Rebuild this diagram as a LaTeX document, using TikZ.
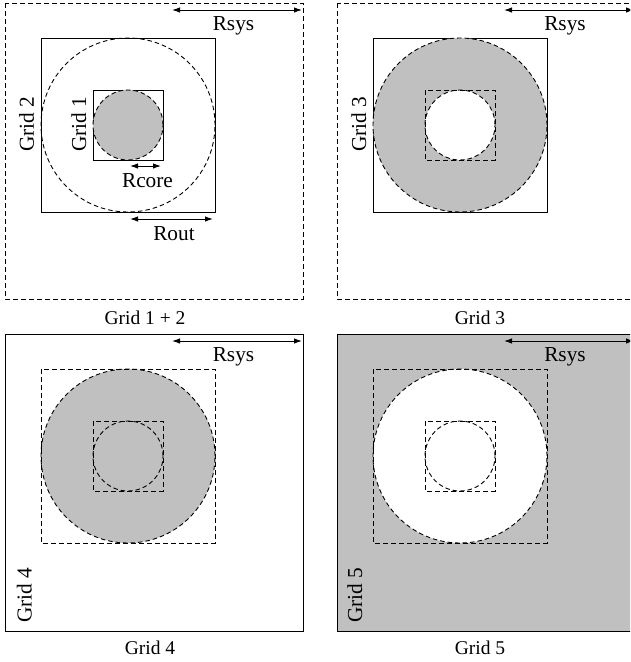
\documentclass[tikz,border=0pt]{standalone}
\usepackage{fontspec}
\setmainfont{Liberation Serif}
\usetikzlibrary{arrows.meta}
\definecolor{greyfill}{RGB}{192,192,192}
\tikzset{
  solidline/.style={line width=1pt},
  dashline/.style={line width=1pt, dash pattern=on 5pt off 3pt},
  dashcirc/.style={line width=0.9pt, dash pattern=on 4.5pt off 3pt},
  dimarrow/.style={line width=1pt, {Latex[length=8pt,width=5.5pt]}-{Latex[length=8pt,width=5.5pt]}},
  lab/.style={inner sep=0pt, anchor=base, font=\fontsize{21.3}{24}\selectfont},
  rlab/.style={inner sep=0pt, anchor=base west, rotate=90, font=\fontsize{21.3}{24}\selectfont},
  captxt/.style={inner sep=0pt, anchor=base, font=\fontsize{19.5}{22}\selectfont}
}
\begin{document}
\begin{tikzpicture}[x=1pt,y=-1pt]
\useasboundingbox (0,0) rectangle (630,662);
\clip (0,0) rectangle (630,662);
% ---------------- Panel 1: Grid 1 + 2
\draw[dashline] (5,3) rectangle (303,299);
\draw[solidline] (41,38) rectangle (215,212);
\draw[dashcirc] (128,125) circle[radius=87pt];
\draw[solidline] (93,90) rectangle (163,160);
\fill[fill=greyfill] (128,125) circle[radius=35pt];
\draw[dashcirc] (128,125) circle[radius=35pt];
\coordinate (s1a) at (172,10); \coordinate (s1b) at (302,10);
\draw[dimarrow] (s1a) -- (s1b);
\node[lab] (rsys1) at (233.5,30) {Rsys};
\coordinate (c1a) at (130,166); \coordinate (c1b) at (161,166);
\draw[dimarrow] (c1a) -- (c1b);
\node[lab] (rcore) at (147.5,187) {Rcore};
\coordinate (o1a) at (130,219); \coordinate (o1b) at (213,219);
\draw[dimarrow] (o1a) -- (o1b);
\node[lab] (rout) at (174,240) {Rout};
\node[rlab] (g2) at (34,152) {Grid 2};
\node[rlab] (g1) at (86,152) {Grid 1};
\node[captxt] (cap1) at (145,324) {Grid 1 + 2};
% ---------------- Panel 2: Grid 3
\draw[dashline] (337,3) rectangle (635,299);
\draw[solidline] (373,38) rectangle (547,212);
\fill[fill=greyfill] (460,125) circle[radius=87pt];
\draw[dashcirc] (460,125) circle[radius=87pt];
\fill[fill=white] (460,125) circle[radius=35pt];
\draw[dashline] (425,90) rectangle (495,160);
\draw[dashcirc] (460,125) circle[radius=35pt];
\coordinate (s2a) at (504,10); \coordinate (s2b) at (634,10);
\draw[dimarrow] (s2a) -- (s2b);
\node[lab] (rsys2) at (565,30) {Rsys};
\node[rlab] (g3) at (366,152) {Grid 3};
\node[captxt] (cap2) at (480,324) {Grid 3};
% ---------------- Panel 3: Grid 4
\draw[solidline] (5,334) rectangle (303,631);
\fill[fill=greyfill] (128,456) circle[radius=87pt];
\draw[dashcirc] (128,456) circle[radius=87pt];
\draw[dashline] (41,369) rectangle (215,543);
\draw[dashline] (93,421) rectangle (163,491);
\draw[dashcirc] (128,456) circle[radius=35pt];
\coordinate (s3a) at (172,341); \coordinate (s3b) at (302,341);
\draw[dimarrow] (s3a) -- (s3b);
\node[lab] (rsys3) at (233.5,361) {Rsys};
\node[rlab] (g4) at (31.5,623) {Grid 4};
\node[captxt] (cap3) at (150,654) {Grid 4};
% ---------------- Panel 4: Grid 5
\fill[fill=greyfill] (337,334) rectangle (635,631);
\draw[solidline] (337,334) rectangle (635,631);
\fill[fill=white] (460,456) circle[radius=87pt];
\draw[dashcirc] (460,456) circle[radius=87pt];
\draw[dashline] (373,369) rectangle (547,543);
\draw[dashline] (425,421) rectangle (495,491);
\draw[dashcirc] (460,456) circle[radius=35pt];
\coordinate (s4a) at (504,341); \coordinate (s4b) at (634,341);
\draw[dimarrow] (s4a) -- (s4b);
\node[lab] (rsys4) at (565,361) {Rsys};
\node[rlab] (g5) at (362,623) {Grid 5};
\node[captxt] (cap4) at (480,654) {Grid 5};
\end{tikzpicture}
\end{document}
